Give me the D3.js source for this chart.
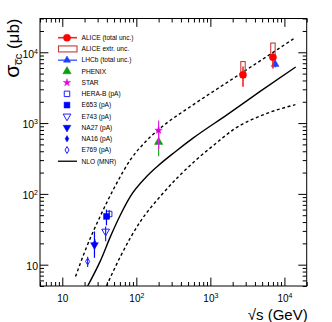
<!DOCTYPE html>
<html>
<head>
<meta charset="utf-8">
<script src="https://cdn.jsdelivr.net/npm/d3@7"></script>
<style>
  body { margin: 0; background: #fff; }
  #chart { width: 332px; height: 322px; }
  text { font-family: "Liberation Sans", Arial, Helvetica, sans-serif; }
</style>
</head>
<body>
<div id="chart"></div>
<script>
// NLO (MNR) band
const nloCentralS = [22, 32.8, 44.8, 61.1, 83.2, 133, 192, 336, 589, 1690, 4700, 14200];
const nloCentralSigma = [5, 11.4, 25.1, 50.8, 92.3, 169, 244, 394, 617, 1316, 2800, 6190];
const nloUpperS = [15.1, 20.6, 32.8, 52.2, 83.3, 133, 199, 589, 1690, 2780, 14150];
const nloUpperSigma = [6.8, 16.3, 49.2, 131, 304, 546, 807, 1820, 3760, 5280, 16200];
const nloLowerS = [39.5, 61.1, 113.5, 211, 646, 1130, 2040, 5670, 14060];
const nloLowerSigma = [5, 13.1, 40.9, 92.3, 304, 495, 807, 1358, 1820];

// measurements: sqrt(s) [GeV], sigma [ub], lower / upper errors
const aliceS = [2760, 7000];
const aliceSigma = [4800, 8500];
const aliceErrLo = [1550, 2600];
const aliceErrHi = [1500, 1200];
const aliceExtrLo = [4400, 8100];
const aliceExtrHi = [7400, 13500];

const lhcbS = [7500];
const lhcbSigma = [6800];
const lhcbErr = [700];

const phenixS = [200];
const phenixSigma = [540];
const phenixErr = [200];

const starS = [200];
const starSigma = [790];
const starErrLo = [360];
const starErrHi = [300];

const herabS = [43];
const herabSigma = [52];
const herabErr = [7];

const e653S = [39.5];
const e653Sigma = [48];
const e653Err = [12];

const e743S = [38.5];
const e743Sigma = [29.5];
const e743ErrLo = [8];
const e743ErrHi = [5];

const na27S = [27.2];
const na27Sigma = [19];
const na27ErrLo = [6.5];
const na27ErrHi = [10.5];

const na16S = [27.4];
const na16Sigma = [20];
const na16Err = [3];

const e769S = [22];
const e769Sigma = [11.1];
const e769Err = [1.8];

const xDomain = [5, 2e4];
const yDomain = [5, 3e4];

const legendLabels = ["ALICE (total unc.)", "ALICE extr. unc.", "LHCb (total unc.)", "PHENIX", "STAR",
    "HERA-B (pA)", "E653 (pA)", "E743 (pA)", "NA27 (pA)", "NA16 (pA)", "E769 (pA)", "NLO (MNR)"];

const width = 332, height = 322;
const margin = { top: 18.5, right: 25.3, bottom: 36, left: 40 };

const svg = d3.select("#chart").append("svg")
    .attr("width", width)
    .attr("height", height);

const x = d3.scaleLog().domain(xDomain).range([margin.left, width - margin.right]);
const y = d3.scaleLog().domain(yDomain).range([height - margin.bottom, margin.top]);

function logTicks(dom) {
    const t = [];
    for (let e = 0; e <= 5; e++) {
        for (let m = 1; m <= 9; m++) {
            const v = m * Math.pow(10, e);
            if (v >= dom[0] && v <= dom[1]) t.push(v);
        }
    }
    return t;
}
const isMajor = v => Math.abs(Math.log10(v) - Math.round(Math.log10(v))) < 1e-9;

function labelTicks(sel) {
    sel.selectAll(".tick text").each(function(d) {
        const t = d3.select(this);
        t.text("");
        if (!isMajor(d)) return;
        const e = Math.round(Math.log10(d));
        t.append("tspan").text("10");
        if (e > 1) t.append("tspan").attr("dy", "-0.55em").style("font-size", "7px").text(e);
    });
}

function styleTicks(sel, vertical) {
    sel.select(".domain").remove();
    sel.selectAll(".tick line")
        .attr("stroke", "#000")
        .each(function(d) {
            if (isMajor(d)) {
                const l = d3.select(this);
                if (vertical) l.attr("x2", +l.attr("x2") * 2.1);
                else l.attr("y2", +l.attr("y2") * 2.1);
            }
        });
}

const xTicks = logTicks(xDomain);
const yTicks = logTicks(yDomain);

// clip for curves
svg.append("clipPath").attr("id", "plot-clip")
    .append("rect")
    .attr("x", margin.left).attr("y", margin.top)
    .attr("width", width - margin.left - margin.right)
    .attr("height", height - margin.top - margin.bottom);

// axes (ticks inward, on all four sides)
const gx = svg.append("g")
    .attr("transform", `translate(0,${height - margin.bottom})`)
    .call(d3.axisBottom(x).tickValues(xTicks).tickSize(-4).tickSizeOuter(0).tickPadding(9));
styleTicks(gx, false);
gx.selectAll("text").style("font-size", "10px").attr("fill", "#000");
labelTicks(gx);

const gxt = svg.append("g")
    .attr("transform", `translate(0,${margin.top})`)
    .call(d3.axisTop(x).tickValues(xTicks).tickSize(-4).tickSizeOuter(0).tickFormat(""));
styleTicks(gxt, false);

const gy = svg.append("g")
    .attr("transform", `translate(${margin.left},0)`)
    .call(d3.axisLeft(y).tickValues(yTicks).tickSize(-4).tickSizeOuter(0).tickPadding(2));
styleTicks(gy, true);
gy.selectAll("text").style("font-size", "10.5px").attr("fill", "#000").attr("dy", "0.45em");
labelTicks(gy);

const gyr = svg.append("g")
    .attr("transform", `translate(${width - margin.right},0)`)
    .call(d3.axisRight(y).tickValues(yTicks).tickSize(-4).tickSizeOuter(0).tickFormat(""));
styleTicks(gyr, true);

svg.append("rect")
    .attr("x", margin.left).attr("y", margin.top)
    .attr("width", width - margin.left - margin.right)
    .attr("height", height - margin.top - margin.bottom)
    .attr("fill", "none")
    .attr("stroke", "#000")
    .attr("stroke-width", 1);

// axis titles
svg.append("text")
    .attr("x", width - margin.right + 1)
    .attr("y", 320)
    .attr("text-anchor", "end")
    .style("font-size", "15px")
    .text("\u221As (GeV)");

const yTitle = svg.append("text")
    .attr("transform", `translate(19,${margin.top}) rotate(-90)`)
    .attr("text-anchor", "end")
    .style("font-size", "17px");
yTitle.append("tspan").style("font-size", "21px").text("\u03C3");
yTitle.append("tspan").attr("dy", "0.3em").style("font-size", "11px").text("c\u0305c");
yTitle.append("tspan").attr("dy", "-0.2em").text(" (\u03BCb)");

// NLO curves
const curve = (xs, ys) => d3.line()
    .x(i => x(xs[i]))
    .y(i => y(ys[i]))
    .curve(d3.curveMonotoneX)(d3.range(xs.length));

const curves = svg.append("g").attr("clip-path", "url(#plot-clip)");
curves.append("path").attr("d", curve(nloCentralS, nloCentralSigma))
    .attr("fill", "none").attr("stroke", "#000").attr("stroke-width", 1.4);
curves.append("path").attr("d", curve(nloUpperS, nloUpperSigma))
    .attr("fill", "none").attr("stroke", "#000").attr("stroke-width", 1.4).attr("stroke-dasharray", "3,2.6");
curves.append("path").attr("d", curve(nloLowerS, nloLowerSigma))
    .attr("fill", "none").attr("stroke", "#000").attr("stroke-width", 1.4).attr("stroke-dasharray", "3,2.6");

const pts = svg.append("g");

function errBar(xs, ys, lo, hi, color, w) {
    xs.forEach((v, i) => {
        pts.append("line")
            .attr("x1", x(v)).attr("x2", x(v))
            .attr("y1", y(ys[i] - lo[i])).attr("y2", y(ys[i] + hi[i]))
            .attr("stroke", color).attr("stroke-width", w || 1.2);
    });
}

function marker(g, type, cx, cy, color, open, size, rot) {
    g.append("path")
        .attr("d", d3.symbol().type(type).size(size)())
        .attr("transform", `translate(${cx},${cy}) rotate(${rot || 0})`)
        .attr("fill", open ? "#fff" : color)
        .attr("fill-opacity", open ? 0 : 1)
        .attr("stroke", color)
        .attr("stroke-width", open ? 1 : 0.5);
}

// ALICE extrapolation boxes
aliceS.forEach((v, i) => {
    pts.append("rect")
        .attr("x", x(v) - 2.2).attr("width", 4.4)
        .attr("y", y(aliceExtrHi[i]))
        .attr("height", y(aliceExtrLo[i]) - y(aliceExtrHi[i]))
        .attr("fill", "none").attr("stroke", "#c23b3b").attr("stroke-width", 1.1);
});

errBar(lhcbS, lhcbSigma, lhcbErr, lhcbErr, "#1f3fff");
lhcbS.forEach((v, i) => marker(pts, d3.symbolTriangle, x(v), y(lhcbSigma[i]), "#1f3fff", false, 26));

errBar(aliceS, aliceSigma, aliceErrLo, aliceErrHi, "#ff2020", 1.6);
aliceS.forEach((v, i) => marker(pts, d3.symbolCircle, x(v), y(aliceSigma[i]), "#ff0000", false, 40));

errBar(phenixS, phenixSigma, phenixErr, phenixErr, "#22aa22");
phenixS.forEach((v, i) => marker(pts, d3.symbolTriangle, x(v), y(phenixSigma[i]), "#109a10", false, 30));

errBar(starS, starSigma, starErrLo, starErrHi, "#e020e0");
starS.forEach((v, i) => marker(pts, d3.symbolStar, x(v), y(starSigma[i]), "#e000e0", false, 17));

errBar(e769S, e769Sigma, e769Err, e769Err, "#2020ff");
e769S.forEach((v, i) => marker(pts, d3.symbolDiamond, x(v), y(e769Sigma[i]), "#2020ff", true, 14));

errBar(na16S, na16Sigma, na16Err, na16Err, "#0000ff");
na16S.forEach((v, i) => marker(pts, d3.symbolDiamond, x(v), y(na16Sigma[i]), "#0000ff", false, 12));

errBar(na27S, na27Sigma, na27ErrLo, na27ErrHi, "#0000ff");
na27S.forEach((v, i) => marker(pts, d3.symbolTriangle, x(v), y(na27Sigma[i]), "#0000ff", false, 26, 180));

errBar(e743S, e743Sigma, e743ErrLo, e743ErrHi, "#2020ff");
e743S.forEach((v, i) => marker(pts, d3.symbolTriangle, x(v), y(e743Sigma[i]), "#2020ff", true, 26, 180));

errBar(herabS, herabSigma, herabErr, herabErr, "#2020ff");
herabS.forEach((v, i) => marker(pts, d3.symbolSquare, x(v), y(herabSigma[i]), "#2020ff", true, 30));

errBar(e653S, e653Sigma, e653Err, e653Err, "#0000ff");
e653S.forEach((v, i) => marker(pts, d3.symbolSquare, x(v), y(e653Sigma[i]), "#0000ff", false, 34));

// legend
const leg = svg.append("g");
const legX = 67, legTextX = 81.5, legY0 = 37.7, legDy = 11.23;
legendLabels.forEach((label, i) => {
    const ly = legY0 + i * legDy;
    leg.append("text")
        .attr("x", legTextX).attr("y", ly)
        .attr("dy", "0.35em")
        .style("font-size", "6.6px")
        .text(label);
    if (i === 0) {
        leg.append("line").attr("x1", 58).attr("x2", 77).attr("y1", ly).attr("y2", ly)
            .attr("stroke", "#ff2020").attr("stroke-width", 1.6);
        marker(leg, d3.symbolCircle, legX, ly, "#ff0000", false, 40);
    } else if (i === 1) {
        leg.append("rect").attr("x", 58.5).attr("y", ly - 3).attr("width", 18.5).attr("height", 6)
            .attr("fill", "none").attr("stroke", "#c23b3b").attr("stroke-width", 1.1);
    } else if (i === 2) {
        leg.append("line").attr("x1", 58).attr("x2", 77).attr("y1", ly).attr("y2", ly)
            .attr("stroke", "#1f3fff").attr("stroke-width", 1.2);
        marker(leg, d3.symbolTriangle, legX, ly, "#1f3fff", false, 22);
    } else if (i === 3) {
        marker(leg, d3.symbolTriangle, legX, ly, "#109a10", false, 30);
    } else if (i === 4) {
        marker(leg, d3.symbolStar, legX, ly, "#e000e0", false, 17);
    } else if (i === 5) {
        marker(leg, d3.symbolSquare, legX, ly, "#2020ff", true, 30);
    } else if (i === 6) {
        marker(leg, d3.symbolSquare, legX, ly, "#0000ff", false, 34);
    } else if (i === 7) {
        marker(leg, d3.symbolTriangle, legX, ly, "#2020ff", true, 26, 180);
    } else if (i === 8) {
        marker(leg, d3.symbolTriangle, legX, ly, "#0000ff", false, 26, 180);
    } else if (i === 9) {
        marker(leg, d3.symbolDiamond, legX, ly, "#0000ff", false, 12);
    } else if (i === 10) {
        marker(leg, d3.symbolDiamond, legX, ly, "#2020ff", true, 14);
    } else {
        leg.append("line").attr("x1", 58).attr("x2", 77).attr("y1", ly).attr("y2", ly)
            .attr("stroke", "#000").attr("stroke-width", 1.3);
    }
});
</script>
</body>
</html>
